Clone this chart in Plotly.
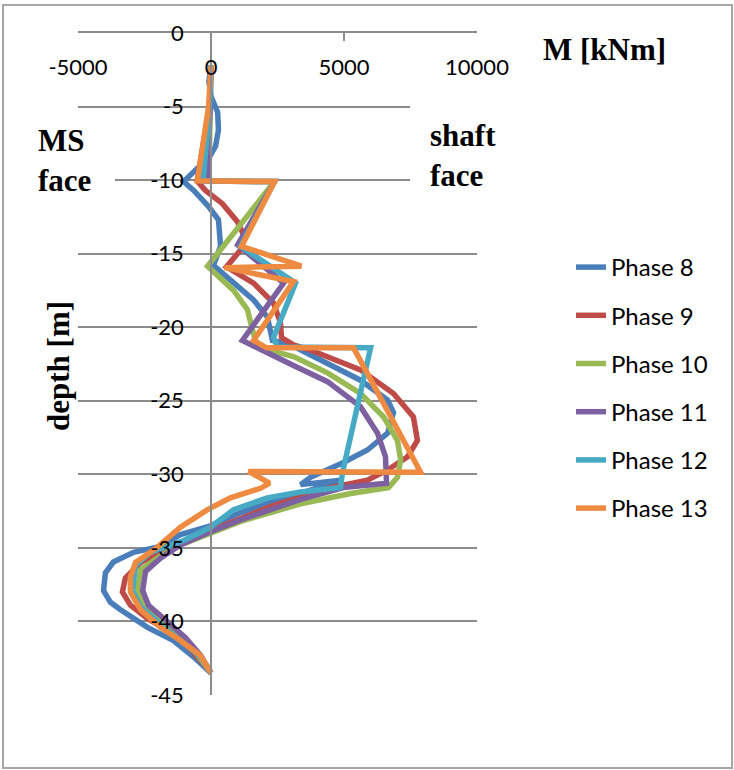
import plotly.graph_objects as go

# ---------------- data ----------------
phases = ["Phase 8", "Phase 9", "Phase 10", "Phase 11", "Phase 12", "Phase 13"]
colors = ["#4A7EBB", "#BE4B48", "#98B954", "#7D60A0", "#46AAC5", "#EE8B40"]

x_ticks = [-5000, 0, 5000, 10000]
x_ticktext = ["-5000", "0", "5000", "10000"]
y_ticks = [0, -5, -10, -15, -20, -25, -30, -35, -40, -45]
y_ticktext = ["0", "-5", "-10", "-15", "-20", "-25", "-30", "-35", "-40", "-45"]

depth_p8 = [-2.2, -3.3, -4.3, -5.4, -6.6, -7.7, -8.4, -9.8, -10.1, -10.7, -11.8, -12.7, -13.9, -14.5,
            -15.8, -17.0, -18.15, -19.3, -20.2, -20.9, -21.2, -21.9, -23.6, -24.95, -25.8, -27.2,
            -28.35, -29.2, -30.2, -30.7, -30.4, -31.3, -31.9, -32.6, -33.5, -34.1, -34.9, -35.3,
            -35.96, -36.7, -37.9, -38.7, -39.2, -40.4, -41.3, -42.4, -43.3, -43.5]
m_p8 = [0, -80, 0, 250, 280, 170, -50, -890, -1030, -650, -90, 280, 360, 360,
        90, 850, 1600, 2120, 2240, 2310, 2990, 3740, 5620, 6640, 6860, 6640,
        5880, 4980, 3740, 3370, 4870, 3370, 2240, 1110, -20, -1150, -1900, -2910,
        -3670, -3970, -4040, -3780, -3400, -2390, -1410, -660, -130, 0]

depth_p9 = [-2.2, -5.0, -10.06, -10.7, -11.6, -12.85, -13.7, -14.75, -15.9, -17.0, -18.35, -19.7,
            -20.7, -21.2, -21.55, -22.9, -24.5, -26.1, -27.7, -28.8, -29.7, -30.4, -30.9, -31.5,
            -32.2, -33.0, -33.8, -34.5, -35.1, -36.0, -37.05, -38.0, -38.9, -39.8, -40.7, -41.9,
            -43.2, -43.5]
m_p9 = [0, -60, -520, -210, 430, 1000, 1220, 1110, 580, 1600, 2350, 2610,
        2650, 3100, 3740, 5620, 6860, 7610, 7760, 7390, 6640, 5880, 4490, 3370,
        2240, 1110, -20, -960, -1710, -2650, -3220, -3330, -3030, -2390, -1520, -770,
        -130, 0]

depth_p10 = [-2.2, -5.0, -10.06, -10.1, -15.85, -17.5, -18.8, -20.2, -21.35, -22.0, -23.1, -24.5,
             -26.1, -27.7, -29.0, -30.2, -30.9, -31.3, -32.0, -32.6, -33.2, -34.0, -34.8, -35.55,
             -36.5, -37.7, -38.5, -39.6, -40.7, -42.1, -43.5]
m_p10 = [0, -30, -80, 2390, -130, 850, 1370, 1560, 1750, 3100, 4380, 5620,
         6490, 7010, 7130, 7010, 6670, 5250, 3370, 2240, 1110, -20, -1150, -1900,
         -2650, -2760, -2650, -2090, -1330, -580, 0]

depth_p11 = [-2.2, -5.0, -10.06, -10.1, -14.4, -17.0, -20.9, -21.7, -22.6, -23.7, -25.4, -27.2,
             -28.8, -30.6, -30.9, -31.7, -32.4, -33.1, -33.9, -34.8, -35.7, -36.6, -37.9, -38.9,
             -39.9, -41.1, -42.3, -43.5]
m_p11 = [0, -30, -150, 2390, 1000, 2730, 1180, 2050, 3100, 4380, 5620, 6260,
         6560, 6600, 4980, 3370, 2240, 1110, -20, -1150, -1900, -2460, -2570, -2350,
         -1710, -960, -390, 0]

depth_p12 = [-2.2, -5.0, -10.06, -10.1, -14.5, -17.0, -20.7, -21.35, -21.4, -29.9, -30.9, -31.2,
             -31.6, -32.4, -33.6, -34.5, -35.3, -36.2, -37.9, -39.0, -40.2, -41.3, -42.4, -43.5]
m_p12 = [0, -50, -300, 2390, 1110, 3180, 2350, 2500, 6000, 4940, 4870, 3370,
         2120, 850, -20, -1030, -2270, -2840, -2950, -2650, -1900, -1150, -390, 0]

depth_p13 = [-2.2, -5.0, -10.05, -10.1, -14.5, -15.85, -15.95, -16.9, -20.9, -21.4, -21.4, -29.85,
             -29.8, -30.6, -30.95, -31.6, -32.4, -33.6, -34.95, -36.0, -37.0, -38.0, -39.2, -40.4,
             -41.3, -42.3, -43.5]
m_p13 = [0, -90, -510, 2390, 1150, 3400, 510, 3100, 1600, 2090, 5360, 7880,
         1410, 2200, 1860, 730, -130, -1150, -2010, -2840, -3030, -3030, -2650, -1900,
         -1150, -400, 0]

series_m = [m_p8, m_p9, m_p10, m_p11, m_p12, m_p13]
series_d = [depth_p8, depth_p9, depth_p10, depth_p11, depth_p12, depth_p13]

# ---------------- layout geometry ----------------
W, H = 734, 770
L, R, T, B = 78, 257, 33, 75
PW = W - L - R
PH = H - T - B


def fx(px):
    return (px - L) / PW


def fy(py):
    return (H - B - py) / PH


GRID = "#8C8C8C"
TICKFONT = dict(family="Lato", size=22, color="black")
SERIF = dict(family="Liberation Serif", size=31, color="black")

fig = go.Figure()
for name, col, m, d in zip(phases, colors, series_m, series_d):
    fig.add_trace(go.Scatter(x=m, y=d, mode="lines", name=name, legendgroup=name,
                             line=dict(color=col, width=5.5)))

fig.update_layout(
    width=W, height=H,
    margin=dict(l=L, r=R, t=T, b=B, pad=0),
    paper_bgcolor="white", plot_bgcolor="white",
    xaxis=dict(range=[-5000, 10000], side="top", tickvals=x_ticks, ticktext=x_ticktext,
               showline=True, linecolor=GRID, linewidth=1.5,
               ticks="inside", ticklen=8, tickcolor=GRID, tickwidth=1.5,
               ticklabelposition="inside", ticklabeloverflow="allow",
               ticklabelstandoff=20,
               showgrid=False, zeroline=False, tickfont=TICKFONT),
    yaxis=dict(range=[-45, 0], anchor="free", position=1 / 3,
               tickvals=y_ticks, ticktext=y_ticktext,
               showline=True, linecolor=GRID, linewidth=1.5, ticks="",
               showgrid=True, gridcolor=GRID, gridwidth=1.5, zeroline=False,
               tickfont=TICKFONT, ticklabelstandoff=22),
    legend=dict(x=fx(571), y=fy(245), xanchor="left", yanchor="top",
                font=dict(family="Lato", size=24, color="black"),
                tracegroupgap=14, bgcolor="rgba(0,0,0,0)"),
    showlegend=True,
)

# white boxes behind the side labels (as in the reference)
fig.add_shape(type="rect", xref="paper", yref="paper", x0=fx(20), x1=fx(115), y0=fy(198), y1=fy(120),
              fillcolor="white", line=dict(width=0), layer="above")
fig.add_shape(type="rect", xref="paper", yref="paper", x0=fx(410), x1=fx(520), y0=fy(198), y1=fy(100),
              fillcolor="white", line=dict(width=0), layer="above")
# outer chart border
fig.add_shape(type="rect", xref="paper", yref="paper", x0=fx(3), x1=fx(732), y0=fy(768), y1=fy(5),
              fillcolor="rgba(0,0,0,0)", line=dict(color="#A6A6A6", width=2), layer="above")

fig.add_annotation(text="<b>M [kNm]</b>", xref="paper", yref="paper", x=fx(604), y=fy(50),
                   showarrow=False, font=SERIF, xanchor="center", yanchor="middle")
fig.add_annotation(text="<b>MS<br>face</b>", xref="paper", yref="paper", x=fx(36), y=fy(160),
                   showarrow=False, font=SERIF, xanchor="left", yanchor="middle", align="left")
fig.add_annotation(text="<b>shaft<br>face</b>", xref="paper", yref="paper", x=fx(428), y=fy(155),
                   showarrow=False, font=SERIF, xanchor="left", yanchor="middle", align="left")
fig.add_annotation(text="<b>depth [m]</b>", xref="paper", yref="paper", x=fx(58), y=fy(366),
                   showarrow=False, font=SERIF, textangle=-90, xanchor="center", yanchor="middle")

fig.write_html("out.html")
